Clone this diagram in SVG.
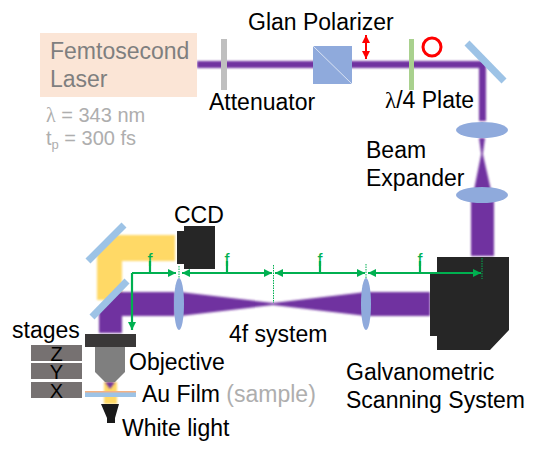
<svg xmlns="http://www.w3.org/2000/svg" width="540" height="460" viewBox="0 0 540 460">
<style>
text{font-family:"Liberation Sans",Arial,sans-serif;font-size:23px;fill:#000}
.g{fill:#aeaeae;font-size:20px}
.s{font-family:"Liberation Serif",serif}
.f{fill:#00b050;font-size:18px;text-anchor:middle}
.beam{fill:#7030a0;filter:url(#b)}
.yb{fill:#ffd966;filter:url(#b)}
.lens{fill:#8faadc}
.mir{stroke:#9dc3e6;stroke-width:7;fill:none}
.gr{stroke:#00b050;stroke-width:2.200;fill:none}
.dot{stroke:#00b050;stroke-width:1;stroke-dasharray:1.5 1;fill:none}
.st{fill:#767171}
.z{font-size:20px;text-anchor:middle}
</style>
<defs>
<filter id="b" x="-20%" y="-20%" width="140%" height="140%"><feGaussianBlur stdDeviation="0.8"/></filter>
<marker id="a" markerUnits="userSpaceOnUse" markerWidth="9" markerHeight="9" refX="8" refY="4" orient="auto-start-reverse"><path d="M0 0L8 4L0 8z" fill="#00b050"/></marker>
<marker id="r" markerUnits="userSpaceOnUse" markerWidth="9" markerHeight="9" refX="8" refY="4" orient="auto-start-reverse"><path d="M0 0L8 4L0 8z" fill="#f00"/></marker>
</defs>
<g id="beams">
<path class="yb" d="M115 235H175V261H122V300H97V253z"/>
<path class="yb" d="M104 382H117V404H104z"/>
<path class="beam" d="M197 61H486V121H479V68H197z"/>
<path class="beam" d="M479 138H485L482.800 154L491 190H474L481.200 154z"/>
<path class="beam" d="M471 200H494V256H471z"/>
<path class="beam" d="M175 292V316H122V333H99V310L117 292z"/>
<path class="beam" d="M180 292L273 303L366 292V316L273 305L180 316z"/>
<path class="beam" d="M368 292H430V316H368z"/>
<path class="beam" d="M105 382H115L110 389z"/>
</g>
<g id="laser"><rect x="40" y="33" width="157" height="64" fill="#fbe5d6"/>
<text x="50" y="59" style="fill:#7f7f7f">Femtosecond</text><text x="50" y="87" style="fill:#7f7f7f">Laser</text>
<text class="g" x="46" y="122"><tspan class="s">λ</tspan> = 343 nm</text>
<text class="g" x="46" y="145">t<tspan font-size="13" dy="4">p</tspan><tspan dy="-4"> = 300 fs</tspan></text></g>
<g id="attenuator"><rect x="221" y="39" width="6" height="51" fill="#bfbfbf"/><text x="209" y="110">Attenuator</text></g>
<g id="polarizer"><rect x="313" y="46" width="39" height="38" fill="#8faadc"/><path d="M313 46L352 84" stroke="#dae3f3" stroke-width="1"/>
<text x="248" y="30">Glan Polarizer</text></g>
<g id="pol-arrow"><path d="M366 35V59" stroke="#f00" stroke-width="2" fill="none" marker-start="url(#r)" marker-end="url(#r)"/></g>
<g id="plate"><rect x="409" y="39" width="5" height="51" fill="#a9d18e"/><text x="385" y="108"><tspan class="s">λ</tspan>/4 Plate</text></g>
<g id="circ"><circle cx="432" cy="47" r="9" fill="none" stroke="#f00" stroke-width="3"/></g>
<g id="mirror1"><path class="mir" d="M467 43L504 81"/></g>
<g id="expander"><ellipse class="lens" cx="482" cy="130" rx="26" ry="8"/><ellipse class="lens" cx="482" cy="195" rx="26" ry="8"/>
<text x="366" y="158">Beam</text><text x="366" y="186">Expander</text></g>
<g id="scanner"><path fill="#262626" d="M437 257H509V330L490 350H437V336H430V273H437z"/><text x="346" y="380">Galvanometric</text><text x="346" y="408">Scanning System</text></g>
<g id="lens1"><ellipse class="lens" cx="179" cy="304" rx="5" ry="26"/></g>
<g id="lens2"><ellipse class="lens" cx="366" cy="304" rx="5" ry="26"/></g>
<text x="229" y="342">4f system</text>
<g id="mirrors"><path class="mir" d="M88 261L124 225"/><path class="mir" d="M92 317L127 281"/></g>
<g id="ccd"><rect x="177" y="231" width="7" height="33" fill="#262626"/><rect x="184" y="226" width="31" height="43" fill="#262626"/><text x="174" y="223">CCD</text></g>
<g id="objective"><rect x="85" y="334" width="51" height="13" fill="#3a3838"/><path fill="#7f7f7f" d="M95 347H125V372L115 382H105L95 372z"/><text x="129" y="370">Objective</text></g>
<g id="film"><rect x="85" y="392" width="51" height="5" fill="#9dc3e6"/><rect x="85" y="391" width="51" height="1.500" fill="#f4b183"/><text x="142" y="402">Au Film <tspan fill="#aeaeae">(sample)</tspan></text></g>
<g id="stages"><rect class="st" x="31" y="345" width="51" height="16"/><rect class="st" x="31" y="363" width="51" height="16"/><rect class="st" x="31" y="382" width="51" height="16"/>
<text x="12" y="338">stages</text><text class="z" x="56.500" y="361">Z</text><text class="z" x="56.500" y="379">Y</text><text class="z" x="56.500" y="398">X</text></g>
<g id="whitelight"><path fill="#1a1a1a" d="M101 404H119L115 418V423H107V418z"/><text x="122" y="436">White light</text></g>
<g id="connectors">
<path class="gr" d="M132 273V330" marker-end="url(#a)"/>
<path class="gr" d="M132 273H176" marker-end="url(#a)"/>
<path class="gr" d="M182 273H272" marker-start="url(#a)" marker-end="url(#a)"/>
<path class="gr" d="M275 273H365" marker-start="url(#a)" marker-end="url(#a)"/>
<path class="gr" d="M368 273H481" marker-start="url(#a)" marker-end="url(#a)"/>
<path class="gr" d="M150 261V273M227 261V273M320 261V273M420 261V273"/>
<path class="dot" d="M179 266V278M273.500 265V303M366 264V278M482 258V279"/>
<text class="f" x="150" y="266">f</text><text class="f" x="227" y="266">f</text><text class="f" x="320" y="266">f</text><text class="f" x="420" y="266">f</text>
</g>
</svg>
